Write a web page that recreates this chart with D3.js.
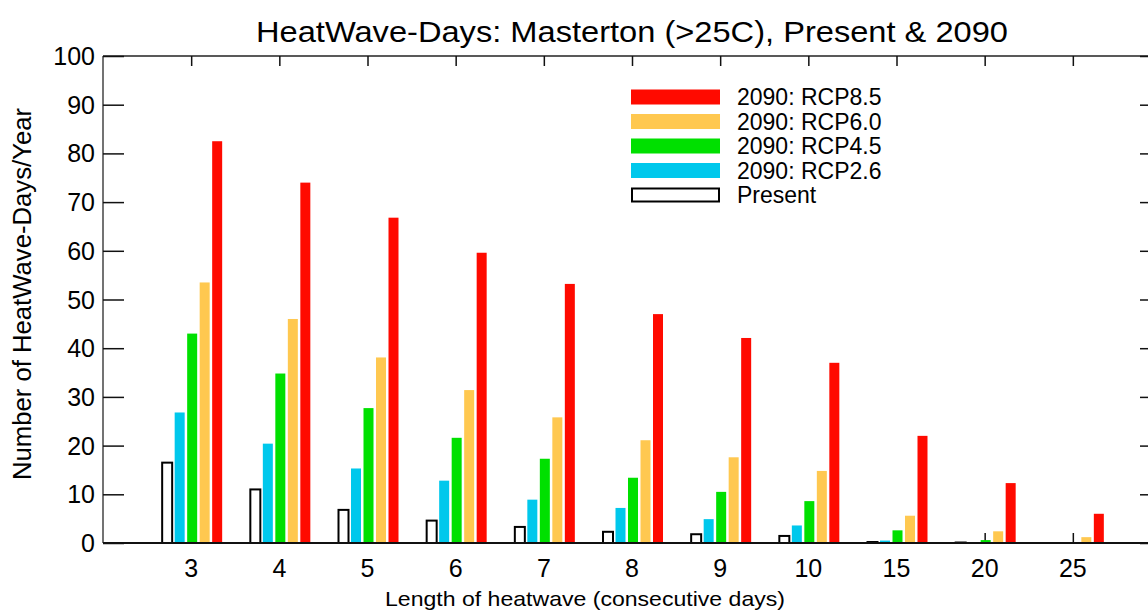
<!DOCTYPE html>
<html>
<head>
<meta charset="utf-8">
<script src="https://cdn.jsdelivr.net/npm/d3@7"></script>
<style>
  body { margin: 0; background: #fff; }
  svg { display: block; font-family: "Liberation Sans", Arial, sans-serif; }
</style>
</head>
<body>
<svg id="chart" width="1148" height="610"></svg>
<script>
// heatwave lengths (x categories)
const categories = ["3", "4", "5", "6", "7", "8", "9", "10", "15", "20", "25"];

// days per year
const present = [16.5, 11.0, 6.8, 4.6, 3.3, 2.3, 1.8, 1.45, 0.2, 0.1, 0];
const rcp26 = [26.8, 20.4, 15.3, 12.8, 8.9, 7.2, 4.9, 3.6, 0.5, 0.05, 0];
const rcp45 = [43.0, 34.8, 27.7, 21.6, 17.3, 13.4, 10.5, 8.6, 2.6, 0.6, 0];
const rcp60 = [53.5, 46.0, 38.1, 31.4, 25.8, 21.1, 17.6, 14.8, 5.6, 2.4, 1.2];
const rcp85 = [82.5, 74.0, 66.8, 59.6, 53.2, 47.0, 42.1, 37.0, 22.0, 12.3, 6.0];

const yTicks = [0, 10, 20, 30, 40, 50, 60, 70, 80, 90, 100];

const seriesNames = ["Present", "2090: RCP2.6", "2090: RCP4.5", "2090: RCP6.0", "2090: RCP8.5"];
const seriesColors = ["#ffffff", "#00c8ec", "#00e000", "#ffc850", "#ff0a00"];
const seriesValues = [present, rcp26, rcp45, rcp60, rcp85];

const svg = d3.select("#chart");
const margin = { left: 103, top: 56, right: 1161, bottom: 543 };

const x = d3.scalePoint()
    .domain(categories)
    .range([margin.left, margin.right])
    .padding(1);

const sub = d3.scaleBand()
    .domain(seriesNames)
    .range([-29, 31])
    .paddingInner(0.2);

const y = d3.scaleLinear()
    .domain([0, 100])
    .range([margin.bottom, margin.top]);

// title (glyphs stretched a little, like the original)
svg.append("text")
    .attr("x", 632)
    .attr("y", 42)
    .attr("text-anchor", "middle")
    .attr("font-size", 30)
    .attr("textLength", 752)
    .attr("lengthAdjust", "spacingAndGlyphs")
    .text("HeatWave-Days: Masterton (>25C), Present & 2090");

// frame lines
svg.append("line")
    .attr("x1", margin.left).attr("x2", margin.right)
    .attr("y1", margin.top).attr("y2", margin.top)
    .attr("stroke", "#222").attr("stroke-width", 1.5);
svg.append("line")
    .attr("x1", margin.left).attr("x2", margin.left)
    .attr("y1", margin.top).attr("y2", margin.bottom)
    .attr("stroke", "#444").attr("stroke-width", 1.5);
svg.append("line")
    .attr("x1", margin.right).attr("x2", margin.right)
    .attr("y1", margin.top).attr("y2", margin.bottom)
    .attr("stroke", "#444").attr("stroke-width", 1.5);

// left and right axes, ticks pointing inward
const yLeft = svg.append("g")
    .attr("transform", `translate(${margin.left},0)`)
    .call(d3.axisRight(y).tickValues(yTicks).tickSize(21).tickFormat(""));
const yRight = svg.append("g")
    .attr("transform", `translate(${margin.right},0)`)
    .call(d3.axisLeft(y).tickValues(yTicks).tickSize(21).tickFormat(""));
[yLeft, yRight].forEach(g => {
    g.select(".domain").remove();
    g.selectAll(".tick line").attr("stroke", "#111").attr("stroke-width", 1.5);
});

// y tick labels
svg.append("g")
    .selectAll("text")
    .data(yTicks)
    .join("text")
    .attr("x", 95)
    .attr("y", d => y(d))
    .attr("dy", "0.36em")
    .attr("text-anchor", "end")
    .attr("font-size", 25)
    .text(d => d);

// top and bottom ticks at the category positions
const xTop = svg.append("g")
    .attr("transform", `translate(0,${margin.top})`)
    .call(d3.axisBottom(x).tickSize(10).tickFormat(""));
const xBottom = svg.append("g")
    .attr("transform", `translate(0,${margin.bottom})`)
    .call(d3.axisTop(x).tickSize(10).tickFormat(""));
[xTop, xBottom].forEach(g => {
    g.select(".domain").remove();
    g.selectAll(".tick line").attr("stroke", "#111").attr("stroke-width", 1.5);
});

// bars
const groups = svg.append("g")
    .selectAll("g")
    .data(categories)
    .join("g")
    .attr("transform", d => `translate(${x(d)},0)`);

groups.selectAll("rect")
    .data((d, i) => seriesNames.map((s, k) => ({ s, k, v: seriesValues[k][i] })))
    .join("rect")
    .filter(d => d.v > 0)
    .attr("x", d => sub(d.s))
    .attr("width", sub.bandwidth())
    .attr("y", d => y(d.v))
    .attr("height", d => y(0) - y(d.v))
    .attr("fill", d => seriesColors[d.k])
    .attr("stroke", d => d.k === 0 ? "#000" : "none")
    .attr("stroke-width", 2);

// baseline
svg.append("line")
    .attr("x1", margin.left).attr("x2", margin.right)
    .attr("y1", margin.bottom).attr("y2", margin.bottom)
    .attr("stroke", "#111").attr("stroke-width", 2);

// x tick labels
svg.append("g")
    .selectAll("text")
    .data(categories)
    .join("text")
    .attr("x", d => x(d))
    .attr("y", 577)
    .attr("text-anchor", "middle")
    .attr("font-size", 25)
    .text(d => d);

// axis titles
svg.append("text")
    .attr("x", 585)
    .attr("y", 606)
    .attr("text-anchor", "middle")
    .attr("font-size", 21)
    .attr("textLength", 400)
    .attr("lengthAdjust", "spacingAndGlyphs")
    .text("Length of heatwave (consecutive days)");

svg.append("text")
    .attr("transform", "translate(31,294) rotate(-90)")
    .attr("text-anchor", "middle")
    .attr("font-size", 25)
    .attr("textLength", 372)
    .attr("lengthAdjust", "spacingAndGlyphs")
    .text("Number of HeatWave-Days/Year");

// legend, top to bottom: RCP8.5 ... Present
const legendOrder = [4, 3, 2, 1, 0];
const legend = svg.append("g")
    .selectAll("g")
    .data(legendOrder)
    .join("g")
    .attr("transform", (d, i) => `translate(631,${97 + i * 24.5})`);

legend.append("rect")
    .attr("x", d => d === 0 ? 1 : 0)
    .attr("y", d => d === 0 ? -6.5 : -7.5)
    .attr("width", d => d === 0 ? 87 : 89)
    .attr("height", d => d === 0 ? 13 : 15)
    .attr("fill", d => seriesColors[d])
    .attr("stroke", d => d === 0 ? "#000" : "none")
    .attr("stroke-width", 2);

legend.append("text")
    .attr("x", 106)
    .attr("y", 0)
    .attr("dy", "0.36em")
    .attr("font-size", 23)
    .text(d => seriesNames[d]);
</script>
</body>
</html>
